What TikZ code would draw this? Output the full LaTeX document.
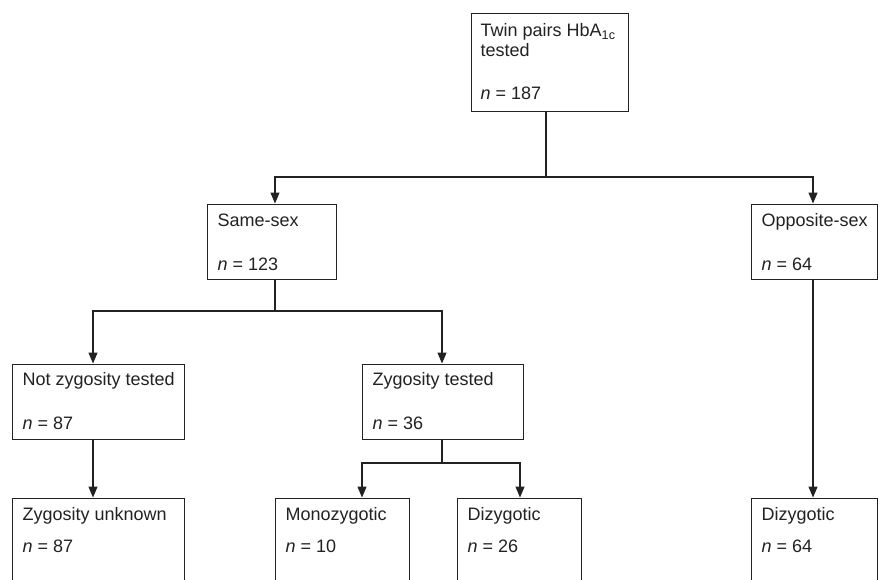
\documentclass[tikz,border=0pt]{standalone}
\usepackage{fontspec}
\setmainfont{Liberation Sans}
\usetikzlibrary{arrows.meta,calc}
\definecolor{ink}{HTML}{222222}
\tikzset{
  box/.style={draw=ink, line width=1pt, rectangle, inner sep=0pt},
  lbl/.style={anchor=base west, inner sep=0pt, font=\fontsize{18}{21}\selectfont, text=ink},
  conn/.style={draw=ink, line width=1.2pt},
  arr/.style={conn, -{Triangle[length=11pt,width=9pt]}},
}
\begin{document}
\begin{tikzpicture}[x=1pt,y=-1pt]
\useasboundingbox (0,0) rectangle (878,579);
\clip (0,0) rectangle (878,579);
\fill[white] (0,0) rectangle (878,579);
% boxes
\node[box, minimum width=157pt, minimum height=98pt] (top) at (549.5,62) {};
\node[box, minimum width=129pt, minimum height=75pt] (same) at (271.5,241.5) {};
\node[box, minimum width=126pt, minimum height=75pt] (opp) at (814,241.5) {};
\node[box, minimum width=172pt, minimum height=75pt] (notz) at (98,401.5) {};
\node[box, minimum width=161pt, minimum height=75pt] (zt) at (442.5,401.5) {};
\node[box, minimum width=172pt, minimum height=100pt] (unk) at (98,548) {};
\node[box, minimum width=134pt, minimum height=100pt] (mono) at (342,548) {};
\node[box, minimum width=124pt, minimum height=100pt] (diz1) at (519,548) {};
\node[box, minimum width=126pt, minimum height=100pt] (diz2) at (814,548) {};
% labels
\node[lbl] (t1) at ($(top.north west)+(10,24)$) {Twin pairs HbA\textsubscript{1c}};
\node[lbl] (t2) at ($(top.north west)+(10,44)$) {tested};
\node[lbl] (t3) at ($(top.north west)+(10,87)$) {\textit{n} = 187};
\node[lbl] (s1) at ($(same.north west)+(11,23)$) {Same-sex};
\node[lbl] (s2) at ($(same.north west)+(11,67)$) {\textit{n} = 123};
\node[lbl] (o1) at ($(opp.north west)+(11,23)$) {Opposite-sex};
\node[lbl] (o2) at ($(opp.north west)+(11,67)$) {\textit{n} = 64};
\node[lbl] (n1) at ($(notz.north west)+(11,22)$) {Not zygosity tested};
\node[lbl] (n2) at ($(notz.north west)+(11,66)$) {\textit{n} = 87};
\node[lbl] (z1) at ($(zt.north west)+(11,22)$) {Zygosity tested};
\node[lbl] (z2) at ($(zt.north west)+(11,66)$) {\textit{n} = 36};
\node[lbl] (u1) at ($(unk.north west)+(11,23)$) {Zygosity unknown};
\node[lbl] (u2) at ($(unk.north west)+(11,55)$) {\textit{n} = 87};
\node[lbl] (m1) at ($(mono.north west)+(11,23)$) {Monozygotic};
\node[lbl] (m2) at ($(mono.north west)+(11,55)$) {\textit{n} = 10};
\node[lbl] (d1) at ($(diz1.north west)+(11,23)$) {Dizygotic};
\node[lbl] (d2) at ($(diz1.north west)+(11,55)$) {\textit{n} = 26};
\node[lbl] (e1) at ($(diz2.north west)+(11,23)$) {Dizygotic};
\node[lbl] (e2) at ($(diz2.north west)+(11,55)$) {\textit{n} = 64};
% junction coordinates
\coordinate (j1) at (546,177);
\coordinate (xs) at (275,0);
\coordinate (xo) at (813,0);
\coordinate (j2) at (275,311);
\coordinate (xn) at (93,0);
\coordinate (xz) at (442,0);
\coordinate (j3) at (442,463);
\coordinate (xm) at (362,0);
\coordinate (xd) at (520,0);
% connectors
\draw[conn] (top.south -| j1) -- (j1);
\draw[arr] (j1) -| (same.north -| xs);
\draw[arr] (j1) -| (opp.north -| xo);
\draw[conn] (same.south -| j2) -- (j2);
\draw[arr] (j2) -| (notz.north -| xn);
\draw[arr] (j2) -| (zt.north -| xz);
\draw[arr] (notz.south -| xn) -- (unk.north -| xn);
\draw[conn] (zt.south -| j3) -- (j3);
\draw[arr] (j3) -| (mono.north -| xm);
\draw[arr] (j3) -| (diz1.north -| xd);
\draw[arr] (opp.south -| xo) -- (diz2.north -| xo);
\end{tikzpicture}
\end{document}
